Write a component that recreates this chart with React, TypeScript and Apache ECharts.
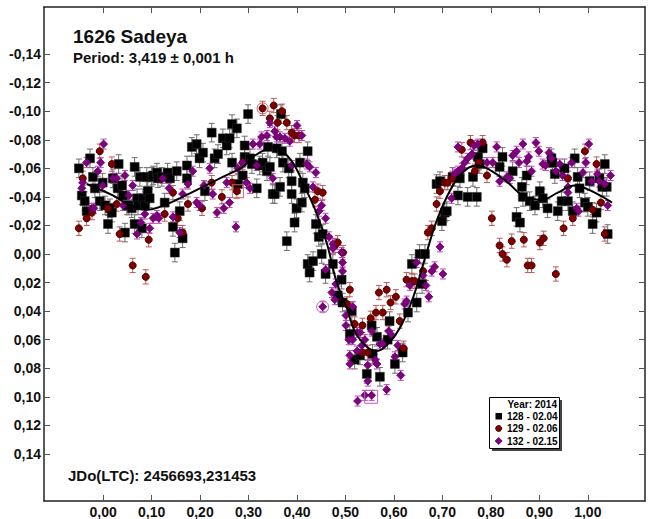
import React, { useEffect, useRef } from "react";
import * as echarts from "echarts";

const FONT = '"Liberation Sans", Arial, sans-serif';

const xTicks = [0, 0.1, 0.2, 0.3, 0.4, 0.5, 0.6, 0.7, 0.8, 0.9, 1.0];
const yTicks = [-0.14, -0.12, -0.1, -0.08, -0.06, -0.04, -0.02, 0, 0.02, 0.04, 0.06, 0.08, 0.1, 0.12, 0.14];

const titleText = "1626 Sadeya";
const periodText = "Period: 3,419 \u00b1 0,001 h";
const epochText = "JDo(LTC): 2456693,231453";
const legendTitle = "Year: 2014";
const seriesNames = ["128 - 02.04", "129 - 02.06", "132 - 02.15"];

const err128 = 0.0065;
const err129 = 0.005;
const err132 = 0.0035;

const s128 = [
  [-0.050,-0.060],[-0.027,-0.067],[-0.044,-0.041],[-0.038,-0.037],[-0.034,-0.030],[-0.021,-0.054],[-0.017,-0.046],[-0.007,-0.037],[-0.001,-0.050],[0.004,-0.034],[0.010,-0.021],[0.014,-0.032],[0.018,-0.029],[0.020,-0.053],[0.030,-0.046],[0.032,-0.063],[0.039,-0.048],[0.041,-0.041],[0.045,-0.015],[0.049,-0.034],[0.053,-0.034],[0.059,-0.032],[0.065,-0.061],[0.065,-0.021],[0.070,-0.039],[0.072,-0.034],[0.076,-0.054],[0.080,-0.018],[0.082,-0.039],[0.086,-0.034],[0.090,-0.054],[0.092,-0.044],[0.096,-0.039],[0.100,-0.054],[0.103,-0.055],[0.111,-0.057],[0.113,-0.053],[0.121,-0.054],[0.127,-0.036],[0.133,-0.057],[0.138,-0.053],[0.144,-0.019],[0.148,-0.001],[0.152,-0.058],[0.158,-0.030],[0.164,-0.011],[0.173,-0.062],[0.173,-0.053],[0.183,-0.075],[0.193,-0.077],[0.199,-0.067],[0.206,-0.071],[0.210,-0.044],[0.224,-0.085],[0.230,-0.067],[0.237,-0.070],[0.247,-0.081],[0.255,-0.076],[0.261,-0.081],[0.266,-0.064],[0.266,-0.091],[0.276,-0.088],[0.278,-0.049],[0.288,-0.055],[0.292,-0.068],[0.299,-0.098],[0.292,-0.076],[0.303,-0.067],[0.307,-0.063],[0.317,-0.046],[0.323,-0.062],[0.329,-0.064],[0.338,-0.058],[0.340,-0.075],[0.344,-0.061],[0.350,-0.042],[0.354,-0.042],[0.358,-0.074],[0.365,-0.047],[0.369,-0.072],[0.371,-0.064],[0.379,-0.009],[0.383,-0.060],[0.389,-0.051],[0.389,-0.042],[0.395,-0.022],[0.399,-0.032],[0.406,-0.064],[0.410,-0.036],[0.412,-0.050],[0.416,-0.046],[0.422,-0.072],[0.422,0.007],[0.426,0.013],[0.433,0.005],[0.439,-0.021],[0.445,-0.012],[0.451,0.000],[0.453,-0.014],[0.459,0.014],[0.474,0.007],[0.492,0.018],[0.367,-0.098],
  [0.484,0.029],[0.494,0.034],[0.513,0.040],[0.509,0.056],[0.519,0.074],[0.530,0.071],[0.544,0.084],[0.554,0.050],[0.556,0.070],[0.565,0.058],[0.571,0.086],[0.587,0.060],[0.591,0.047],[0.602,0.077],[0.618,0.069],[0.629,0.041],[0.647,0.034],[0.637,0.007],[0.653,0.000],[0.664,0.000],[0.658,0.021],
  [0.688,-0.049],[0.695,-0.051],[0.699,-0.023],[0.705,-0.029],[0.709,-0.030],[0.721,-0.054],[0.732,-0.041],[0.736,-0.053],[0.752,-0.040],[0.763,-0.054],[0.771,-0.040],[0.773,-0.068],[0.777,-0.063],[0.783,-0.074],[0.818,-0.061],[0.824,-0.068],[0.845,-0.058],[0.853,-0.026],[0.860,-0.022],[0.864,-0.047],[0.866,-0.040],[0.874,-0.055],[0.880,-0.037],[0.891,-0.034],[0.901,-0.044],[0.907,-0.039],[0.917,-0.032],[0.925,-0.067],[0.927,-0.064],[0.932,-0.056],[0.938,-0.030],[0.946,-0.037],[0.952,-0.060],[0.959,-0.037],[0.969,-0.030],[0.973,-0.067],[0.979,-0.054],[0.983,-0.046],[0.994,-0.036],[1.000,-0.033],[1.004,-0.051],[1.010,-0.021],[1.018,-0.029],[1.024,-0.053],[1.030,-0.047],[1.035,-0.063],[1.039,-0.047],[1.041,-0.014],
];

const s129 = [
  [-0.050,-0.018],[-0.042,-0.053],[-0.034,-0.025],[-0.023,-0.029],[-0.007,-0.072],[0.010,-0.032],[0.018,-0.063],[0.028,-0.035],[0.034,-0.014],[0.061,0.008],[0.088,0.016],[0.094,-0.010],[0.127,-0.028],[0.144,-0.043],[0.154,-0.025],[0.164,-0.015],[0.175,-0.035],[0.204,-0.032],[0.224,-0.050],[0.245,-0.040],[0.266,-0.050],[0.276,-0.044],[0.288,-0.064],[0.329,-0.102],[0.352,-0.104],[0.369,-0.100],[0.344,-0.095],[0.360,-0.092],[0.379,-0.092],[0.389,-0.085],[0.395,-0.083],[0.404,-0.083],[0.443,-0.044],[0.453,-0.043],[0.437,-0.038],[0.478,-0.006],[0.484,-0.008],[0.495,-0.001],[0.509,0.025],[0.503,0.035],[0.519,0.049],[0.535,0.050],[0.552,0.045],[0.563,0.041],[0.577,0.041],[0.569,0.027],[0.585,0.025],[0.593,0.034],[0.604,0.030],[0.612,0.047],[0.620,0.066],[0.626,0.018],[0.637,0.019],[0.643,0.019],[0.660,0.012],[0.546,0.069],[0.535,0.069],
  [0.670,-0.015],[0.678,-0.018],[0.688,-0.035],[0.695,-0.044],[0.705,-0.050],[0.711,-0.050],[0.721,-0.053],[0.740,-0.073],[0.758,-0.078],[0.767,-0.058],[0.775,-0.064],[0.783,-0.078],[0.792,-0.055],[0.802,-0.025],[0.818,-0.006],[0.824,0.000],[0.833,0.004],[0.843,-0.009],[0.868,-0.010],[0.876,0.008],[0.884,0.008],[0.901,-0.008],[0.909,-0.011],[0.934,0.014],[0.950,-0.018],[0.959,-0.053],[0.969,-0.025],[0.994,-0.072],[1.010,-0.031],[1.018,-0.063],[1.027,-0.036],[1.035,-0.014],
];

const s132 = [
  [-0.044,-0.046],[-0.034,-0.064],[-0.042,-0.050],[-0.011,-0.058],[-0.005,-0.064],[0.001,-0.077],[-0.023,-0.032],[-0.019,-0.032],[-0.001,-0.048],[0.020,-0.053],[0.028,-0.053],[0.041,-0.034],[0.045,-0.055],[0.053,-0.041],[0.061,-0.048],[0.070,-0.014],[0.078,-0.022],[0.086,-0.028],[0.096,-0.018],[0.103,-0.025],[0.111,-0.027],[0.115,-0.025],[0.123,-0.053],[0.136,-0.046],[0.144,-0.026],[0.158,-0.015],[0.164,-0.042],[0.175,-0.049],[0.185,-0.058],[0.193,-0.036],[0.199,-0.034],[0.208,-0.048],[0.220,-0.060],[0.226,-0.042],[0.235,-0.029],[0.249,-0.032],[0.255,-0.050],[0.261,-0.036],[0.274,-0.019],[0.278,-0.060],[0.288,-0.064],[0.296,-0.050],
  [0.309,-0.077],[0.323,-0.077],[0.327,-0.082],[0.338,-0.083],[0.344,-0.092],[0.354,-0.086],[0.358,-0.082],[0.365,-0.082],[0.375,-0.081],[0.385,-0.079],[0.400,-0.090],[0.410,-0.083],[0.303,-0.046],[0.317,-0.062],[0.350,-0.053],[0.389,-0.062],[0.420,-0.063],[0.426,-0.061],[0.439,-0.057],[0.433,-0.047],[0.445,-0.030],[0.451,-0.034],[0.459,-0.025],[0.466,-0.012],[0.474,-0.007],[0.474,-0.004],[0.492,-0.001],[0.494,0.006],[0.494,0.012],[0.459,0.011],[0.453,0.037],
  [0.472,0.027],[0.478,0.032],[0.480,0.021],[0.501,0.043],[0.501,0.050],[0.507,0.060],[0.509,0.071],[0.509,0.077],[0.515,0.037],[0.515,0.060],[0.524,0.068],[0.524,0.055],[0.530,0.055],[0.534,0.064],[0.540,0.060],[0.546,0.078],[0.546,0.089],[0.554,0.054],[0.554,0.099],[0.525,0.103],[0.540,0.099],[0.561,0.074],[0.565,0.077],[0.571,0.063],[0.577,0.063],[0.585,0.095],[0.589,0.054],[0.596,0.057],[0.602,0.072],[0.608,0.064],[0.614,0.085],[0.622,0.035],[0.626,0.033],[0.633,0.022],[0.647,0.006],[0.660,0.015],[0.666,0.022],[0.672,0.030],[0.678,0.012],[0.684,0.009],[0.701,0.014],[0.695,-0.005],
  [0.719,-0.039],[0.725,-0.056],[0.732,-0.058],[0.740,-0.060],[0.746,-0.064],[0.752,-0.067],[0.732,-0.075],[0.761,-0.070],[0.765,-0.076],[0.773,-0.077],[0.792,-0.064],[0.804,-0.064],[0.812,-0.075],[0.818,-0.051],[0.833,-0.054],[0.839,-0.053],[0.845,-0.069],[0.853,-0.072],[0.858,-0.064],[0.866,-0.077],[0.874,-0.065],[0.878,-0.068],[0.884,-0.058],[0.893,-0.078],[0.899,-0.072],[0.907,-0.063],[0.913,-0.062],[0.920,-0.071],[0.925,-0.067],[0.934,-0.058],[0.942,-0.063],[0.948,-0.055],[0.959,-0.047],[0.959,-0.043],[0.967,-0.064],[0.977,-0.032],[0.981,-0.030],[0.990,-0.057],[0.996,-0.064],[1.002,-0.077],[1.008,-0.051],[1.020,-0.056],[1.024,-0.051],[1.035,-0.049],[1.041,-0.034],[1.047,-0.055],
];

const fitCurve = [
  [-0.034,-0.049],[0.020,-0.041],[0.055,-0.034],[0.090,-0.031],[0.117,-0.033],[0.152,-0.038],[0.206,-0.047],[0.247,-0.054],[0.288,-0.061],[0.309,-0.068],[0.340,-0.074],[0.358,-0.075],[0.371,-0.072],[0.395,-0.062],[0.416,-0.047],[0.441,-0.028],[0.462,-0.007],[0.482,0.020],[0.503,0.038],[0.519,0.054],[0.544,0.065],[0.565,0.068],[0.585,0.064],[0.612,0.052],[0.639,0.031],[0.664,0.003],[0.690,-0.025],[0.725,-0.050],[0.752,-0.060],[0.773,-0.062],[0.802,-0.058],[0.835,-0.050],[0.870,-0.040],[0.905,-0.038],[0.938,-0.043],[0.973,-0.048],[1.008,-0.044],[1.050,-0.036],
];

const ringRed = [[0.329, -0.102]];
const boxRed = [[0.278, -0.044]];
const ringPurple = [[0.453, 0.037]];
const boxPurple = [[0.553, 0.100]];

const fmt = (v: number) => v.toFixed(2).replace(".", ",");

function errorBars(name: string, data: number[][], err: number, color: string) {
  return {
    type: "custom",
    name,
    silent: true,
    data: data.map((d) => [d[0], d[1], err]),
    encode: { x: 0, y: 1 },
    renderItem: (_params: any, api: any) => {
      const x = api.value(0);
      const y = api.value(1);
      const e = api.value(2);
      const p1 = api.coord([x, y - e]);
      const p2 = api.coord([x, y + e]);
      const w = 3;
      const style = { stroke: color, lineWidth: 1 };
      return {
        type: "group",
        children: [
          { type: "line", shape: { x1: p1[0], y1: p1[1], x2: p2[0], y2: p2[1] }, style },
          { type: "line", shape: { x1: p1[0] - w, y1: p1[1], x2: p1[0] + w, y2: p1[1] }, style },
          { type: "line", shape: { x1: p2[0] - w, y1: p2[1], x2: p2[0] + w, y2: p2[1] }, style },
        ],
      };
    },
  };
}

const X_MIN = -0.122;
const X_MAX = 1.118;
const Y_MIN = -0.173;
const Y_MAX = 0.173;

function makeX(position: "bottom" | "top", labels: boolean) {
  return {
    type: "value",
    min: X_MIN,
    max: X_MAX,
    position,
    axisLine: { show: true, onZero: false, lineStyle: { color: "#222", width: 1.5 } },
    axisTick: { show: true, inside: true, length: 6, customValues: xTicks, lineStyle: { color: "#555", width: 1 } },
    axisLabel: {
      show: labels,
      customValues: xTicks,
      formatter: fmt,
      fontFamily: FONT,
      fontSize: 14,
      fontWeight: "bold",
      color: "#111",
      margin: 4,
    },
    splitLine: { show: false },
  };
}

function makeY(position: "left" | "right", labels: boolean) {
  return {
    type: "value",
    min: Y_MIN,
    max: Y_MAX,
    inverse: true,
    position,
    axisLine: { show: true, onZero: false, lineStyle: { color: "#222", width: 1.5 } },
    axisTick: { show: true, inside: true, length: 6, customValues: yTicks, lineStyle: { color: "#555", width: 1 } },
    axisLabel: {
      show: labels,
      customValues: yTicks,
      formatter: fmt,
      fontFamily: FONT,
      fontSize: 14,
      fontWeight: "bold",
      color: "#111",
      margin: 3,
    },
    splitLine: { show: false },
  };
}

export default function App() {
  const ref = useRef<HTMLDivElement>(null);
  useEffect(() => {
    if (!ref.current) return;
    const chart = echarts.init(ref.current, undefined, { renderer: "svg" });
    const lx = 489.5;
    const ly = 397.5;
    chart.setOption({
      animation: false,
      backgroundColor: "#fff",
      grid: { left: 44, right: 3, top: 7, bottom: 18, containLabel: false },
      xAxis: [makeX("bottom", true), makeX("top", false)],
      yAxis: [makeY("left", true), makeY("right", false)],
      series: [
        errorBars(seriesNames[0], s128, err128, "#6e6e6e"),
        {
          type: "scatter",
          name: seriesNames[0],
          data: s128,
          symbol: "rect",
          symbolSize: 9,
          itemStyle: { color: "#000", borderColor: "#333", borderWidth: 0.5, opacity: 1 },
        },
        errorBars(seriesNames[1], s129, err129, "#c05a5a"),
        {
          type: "scatter",
          name: seriesNames[1],
          data: s129,
          symbol: "circle",
          symbolSize: 7,
          itemStyle: { color: "#800000", borderColor: "#4a0000", borderWidth: 1, opacity: 1 },
        },
        errorBars(seriesNames[2], s132, err132, "#c040c0"),
        {
          type: "scatter",
          name: seriesNames[2],
          data: s132,
          symbol: "diamond",
          symbolSize: 8,
          itemStyle: { color: "#800080", borderColor: "#5a005a", borderWidth: 0.8, opacity: 1 },
        },
        {
          type: "scatter",
          data: ringRed,
          symbol: "circle",
          symbolSize: 11,
          silent: true,
          itemStyle: { color: "rgba(0,0,0,0)", borderColor: "#d06060", borderWidth: 1, opacity: 1 },
        },
        {
          type: "scatter",
          data: boxRed,
          symbol: "rect",
          symbolSize: [11, 13],
          silent: true,
          itemStyle: { color: "rgba(0,0,0,0)", borderColor: "#d06060", borderWidth: 1, opacity: 1 },
        },
        {
          type: "scatter",
          data: ringPurple,
          symbol: "circle",
          symbolSize: 12,
          silent: true,
          itemStyle: { color: "rgba(0,0,0,0)", borderColor: "#c060c0", borderWidth: 1, opacity: 1 },
        },
        {
          type: "scatter",
          data: boxPurple,
          symbol: "rect",
          symbolSize: 13,
          silent: true,
          itemStyle: { color: "rgba(0,0,0,0)", borderColor: "#c060c0", borderWidth: 1, opacity: 1 },
        },
        {
          type: "line",
          data: fitCurve,
          smooth: 0.4,
          showSymbol: false,
          symbol: "none",
          silent: true,
          lineStyle: { color: "#000", width: 2 },
          z: 5,
        },
      ],
      graphic: [
        {
          type: "text",
          x: 73,
          y: 36,
          style: { text: titleText, font: `bold 19px ${FONT}`, fill: "#111", verticalAlign: "middle" },
        },
        {
          type: "text",
          x: 73,
          y: 57.5,
          style: { text: periodText, font: `bold 15px ${FONT}`, fill: "#111", verticalAlign: "middle" },
        },
        {
          type: "text",
          x: 68,
          y: 475.5,
          style: { text: epochText, font: `bold 15px ${FONT}`, fill: "#111", verticalAlign: "middle" },
        },
        {
          type: "rect",
          z: 100,
          shape: { x: lx + 2.5, y: ly + 2.5, width: 70, height: 51 },
          style: { fill: "#444" },
        },
        {
          type: "rect",
          z: 101,
          shape: { x: lx, y: ly, width: 70, height: 51 },
          style: { fill: "#fff", stroke: "#000", lineWidth: 1 },
        },
        {
          type: "text",
          z: 102,
          x: 557,
          y: 404.5,
          style: { text: legendTitle, font: `bold 10px ${FONT}`, fill: "#000", align: "right", verticalAlign: "middle" },
        },
        { type: "rect", z: 102, shape: { x: 495.5, y: 413, width: 6.5, height: 6.5 }, style: { fill: "#000" } },
        {
          type: "text",
          z: 102,
          x: 507,
          y: 416,
          style: { text: seriesNames[0], font: `bold 10px ${FONT}`, fill: "#000", verticalAlign: "middle" },
        },
        {
          type: "circle",
          z: 102,
          shape: { cx: 498.7, cy: 428.5, r: 3 },
          style: { fill: "#800000", stroke: "#4a0000", lineWidth: 1 },
        },
        {
          type: "text",
          z: 102,
          x: 507,
          y: 428.5,
          style: { text: seriesNames[1], font: `bold 10px ${FONT}`, fill: "#000", verticalAlign: "middle" },
        },
        {
          type: "polygon",
          z: 102,
          shape: { points: [[498.7, 437.5], [502.2, 441], [498.7, 444.5], [495.2, 441]] },
          style: { fill: "#800080", stroke: "#5a005a", lineWidth: 0.8 },
        },
        {
          type: "text",
          z: 102,
          x: 507,
          y: 441,
          style: { text: seriesNames[2], font: `bold 10px ${FONT}`, fill: "#000", verticalAlign: "middle" },
        },
      ],
    });
    return () => chart.dispose();
  }, []);
  return (
    <div
      ref={ref}
      style={{ position: "absolute", left: 0, top: 0, width: 648, height: 519, background: "#fff" }}
    />
  );
}
